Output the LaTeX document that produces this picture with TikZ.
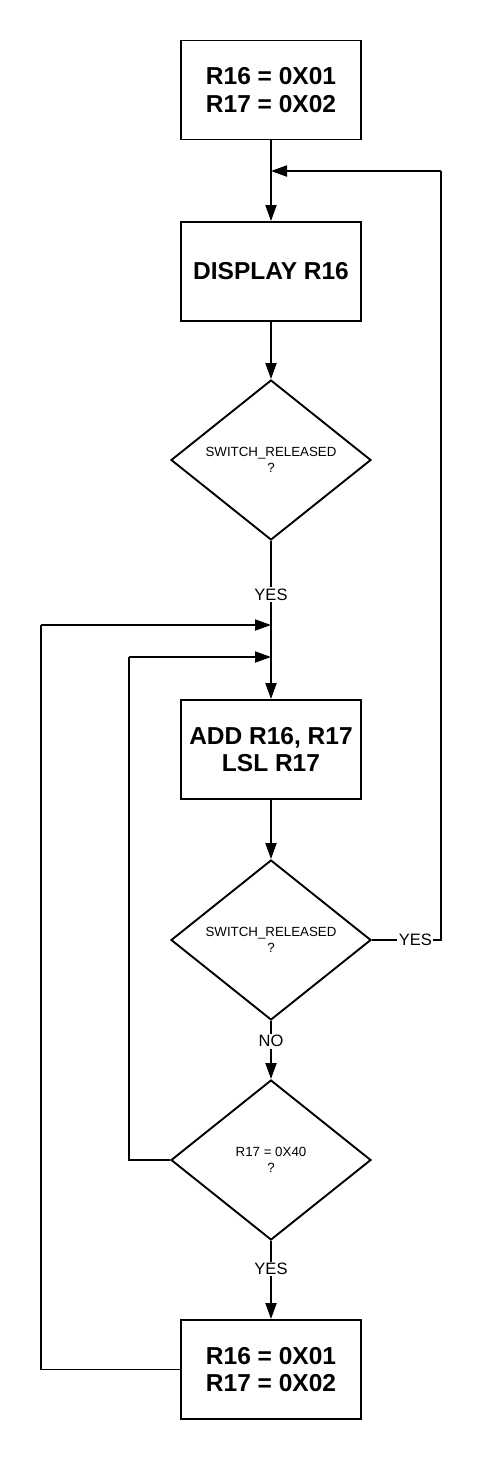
\documentclass[tikz,border=0pt]{standalone}
\usepackage{fontspec}
\setmainfont{Liberation Sans}
\usetikzlibrary{arrows.meta,shapes.geometric}
\begin{document}
\begin{tikzpicture}[x=1pt,y=-1pt,
  every path/.style={line width=1.9pt},
  procbox/.style={draw,rectangle,minimum width=180pt,minimum height=99pt,inner sep=0pt,align=center,
    font=\bfseries\fontsize{24.5}{27.5}\selectfont},
  decision/.style={draw,diamond,minimum width=200pt,minimum height=160pt,inner sep=0pt,align=center,
    font=\fontsize{13.3}{16}\selectfont},
  lab/.style={fill=white,inner sep=1.5pt,font=\fontsize{16.5}{18}\selectfont},
  arr/.style={-{Triangle[length=16pt,width=11pt]}}]
\useasboundingbox (0,0) rectangle (482,1460);
\node[procbox] (b1) at (271,90) {R16 = 0X01\\R17 = 0X02};
\node[procbox] (b2) at (271,271.5) {DISPLAY R16};
\node[decision] (d1) at (271,460) {SWITCH\_RELEASED\\?};
\node[procbox] (b3) at (271,749.5) {ADD R16, R17\\LSL R17};
\node[decision] (d2) at (271,940) {SWITCH\_RELEASED\\?};
\node[decision] (d3) at (271,1160) {R17 = 0X40\\?};
\node[procbox] (b4) at (271,1369.5) {R16 = 0X01\\R17 = 0X02};
\coordinate (j1) at (271,171);
\coordinate (j2) at (271,625);
\coordinate (j3) at (271,657);
\coordinate (r1) at (441,940);
\coordinate (r2) at (441,171);
\coordinate (l1) at (129,1160);
\coordinate (l2) at (129,657);
\coordinate (m1) at (41,1369.5);
\coordinate (m2) at (41,625);
\draw[arr] (b1) -- (b2);
\draw[arr] (b2) -- (d1);
\draw[arr] (d1.south) -- node[lab,pos=0.34]{YES} (b3.north);
\draw[arr] (b3) -- (d2);
\draw[arr] (d2.south) -- node[lab,pos=0.35]{NO} (d3.north);
\draw[arr] (d3.south) -- node[lab,pos=0.36]{YES} (b4.north);
\draw (d2.east) -- node[lab,pos=0.63]{YES} (r1) -- (r2);
\draw[arr] (r2) -- (j1);
\draw (d3.west) -- (l1) -- (l2);
\draw[arr] (l2) -- (j3);
\draw (b4.west) -- (m1) -- (m2);
\draw[arr] (m2) -- (j2);
\end{tikzpicture}
\end{document}
